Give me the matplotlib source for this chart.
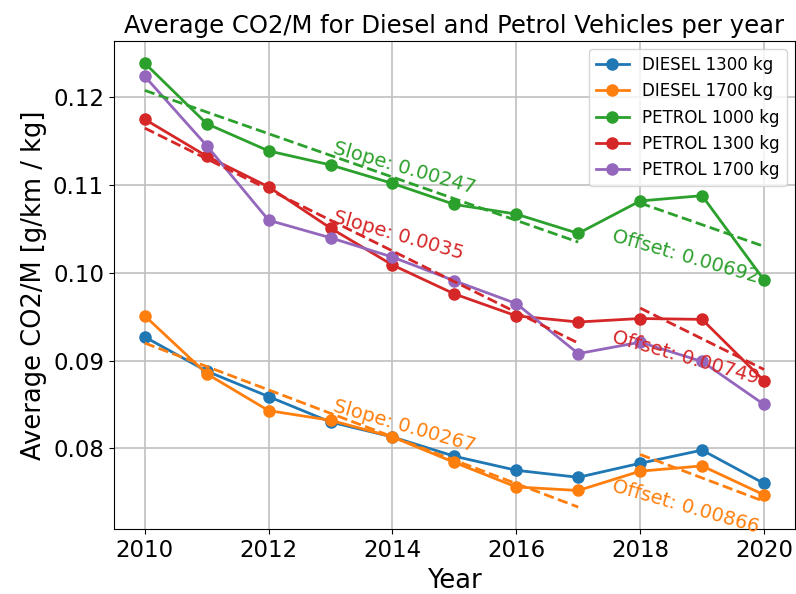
import numpy as np
import matplotlib
matplotlib.use("Agg")
import matplotlib.pyplot as plt

years = np.arange(2010, 2021)

diesel_1300 = [0.0927, 0.0888, 0.0859, 0.0830, 0.0813, 0.0791, 0.0775, 0.0767, 0.0783, 0.0798, 0.0760]
diesel_1700 = [0.0951, 0.0885, 0.0843, 0.0832, 0.0813, 0.0784, 0.0756, 0.0752, 0.0774, 0.0780, 0.0747]
petrol_1000 = [0.1239, 0.1170, 0.1139, 0.1123, 0.1102, 0.1078, 0.1067, 0.1045, 0.1082, 0.1088, 0.0992]
petrol_1300 = [0.1175, 0.1133, 0.1098, 0.1051, 0.1009, 0.0976, 0.0951, 0.0944, 0.0948, 0.0947, 0.0877]
petrol_1700 = [0.1224, 0.1145, 0.1060, 0.1040, 0.1018, 0.0991, 0.0965, 0.0908, 0.0921, 0.0899, 0.0850]

labels = ["DIESEL 1300 kg", "DIESEL 1700 kg", "PETROL 1000 kg", "PETROL 1300 kg", "PETROL 1700 kg"]
series = [diesel_1300, diesel_1700, petrol_1000, petrol_1300, petrol_1700]
colors = ["#1f77b4", "#ff7f0e", "#2ca02c", "#d62728", "#9467bd"]

# trend fits: value at 2010, slope per year, offset for 2018-2020
trend_colors = ["#2ca02c", "#d62728", "#ff7f0e"]
trend_start = [0.1208, 0.1165, 0.0920]
trend_slope = [0.00247, 0.0035, 0.00267]
trend_offset = [0.00692, 0.00749, 0.00866]
slope_text_y = [0.1143, 0.1064, 0.0848]
offset_text_y = [0.1042, 0.0927, 0.0757]

fig, ax = plt.subplots(figsize=(7.96, 5.94), dpi=100)

for vals, lab, c in zip(series, labels, colors):
    ax.plot(years, vals, "-o", color=c, label=lab, linewidth=2, markersize=8)

for c, a, s, o, ty1, ty2 in zip(trend_colors, trend_start, trend_slope, trend_offset,
                                 slope_text_y, offset_text_y):
    x1 = np.array([2010, 2017])
    x2 = np.array([2018, 2020])
    ax.plot(x1, a - s * (x1 - 2010), "--", color=c, linewidth=2)
    ax.plot(x2, a - s * (x2 - 2010) + o, "--", color=c, linewidth=2)
    ax.text(2013.05, ty1, "Slope: " + str(s), color=c, fontsize=14, rotation=-16,
            rotation_mode="anchor", ha="left", va="center")
    ax.text(2017.55, ty2, "Offset: " + str(o), color=c, fontsize=14, rotation=-16,
            rotation_mode="anchor", ha="left", va="center")

ax.set_title("Average CO2/M for Diesel and Petrol Vehicles per year", fontsize=17.5)
ax.set_xlabel("Year", fontsize=18.5)
ax.set_ylabel("Average CO2/M [g/km / kg]", fontsize=18.5)
ax.tick_params(labelsize=16.5)
ax.grid(True, color="#c0c0c0", linewidth=1.2)
ax.legend(fontsize=12, loc="upper right")

plt.subplots_adjust(left=0.143, right=0.9987, top=0.931, bottom=0.109)
plt.savefig("out.png")
